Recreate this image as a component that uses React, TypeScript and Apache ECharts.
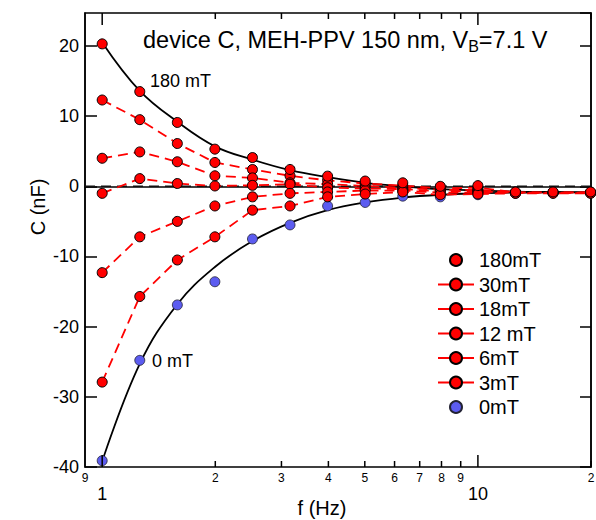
import React, { useEffect, useRef } from 'react';
import * as echarts from 'echarts';

const FONT = '"Liberation Sans", Arial, Helvetica, sans-serif';

// frequencies (Hz)
const freqs = [1, 1.259, 1.585, 1.995, 2.512, 3.162, 3.981, 5.012, 6.31, 7.943, 10, 12.59, 15.85, 19.95];

// capacitance (nF) per magnetic field
const c180 = [20.3, 13.5, 9.1, 5.3, 4.1, 2.4, 1.45, 0.75, 0.5, 0.0, 0.1, -0.8, -0.8, -0.8];
const c30 = [12.3, 9.5, 6.1, 3.4, 2.4, 1.5, 0.85, 0.4, 0.1, -0.3, -0.2, -0.85, -0.85, -0.85];
const c18 = [4.0, 4.9, 3.5, 1.5, 1.2, 0.5, 0.3, 0.05, -0.2, -0.5, -0.5, -0.9, -0.9, -0.9];
const c12 = [-1.0, 1.1, 0.4, 0.05, 0.14, 0.3, -0.2, -0.3, -0.4, -0.7, -0.7, -0.9, -0.9, -0.9];
const c6 = [-12.3, -7.2, -5.0, -2.8, -1.5, -1.0, -0.8, -0.6, -0.6, -0.9, -0.9, -0.95, -0.95, -0.95];
const c3 = [-27.9, -15.7, -10.5, -7.2, -3.4, -2.8, -1.5, -1.1, -0.8, -1.2, -1.1, -1.0, -1.0, -1.0];
const c0 = [-39.1, -24.8, -16.9, -13.6, -7.5, -5.5, -2.8, -2.3, -1.4, -1.5, -1.2, -1.0, -0.9, -0.9];

// fitted curves
const fit180 = [20.5, 13.6, 9.2, 5.7, 3.8, 2.3, 1.3, 0.5, 0.0, -0.4, -0.6, -0.75, -0.8, -0.85];
const fit0 = [-39.2, -25.3, -16.8, -11.5, -7.8, -5.2, -3.4, -2.3, -1.6, -1.2, -1.0, -0.9, -0.85, -0.85];

// axis ticks
const xTickValues = [1, 2, 3, 4, 5, 6, 7, 8, 9, 10, 20];
const xTickMajor = [1, 0, 0, 0, 0, 0, 0, 0, 0, 1, 0];
const xLabelValues = [0.9, 1, 2, 3, 4, 5, 6, 7, 8, 9, 10, 20];
const xLabelTexts = ['9', '1', '2', '3', '4', '5', '6', '7', '8', '9', '10', '2'];
const xLabelMajor = [0, 1, 0, 0, 0, 0, 0, 0, 0, 0, 1, 0];

const names = ['180mT', '30mT', '18mT', '12 mT', '6mT', '3mT', '0mT'];

const RED = '#ff0000';
const BLUE = '#5c5cf0';

function pairs(ys: number[]) {
  return freqs.map((f, i) => [f, ys[i]]);
}

export default function App() {
  const ref = useRef<HTMLDivElement>(null);
  useEffect(() => {
    if (!ref.current) return;
    const chart = echarts.init(ref.current, null, { renderer: 'svg' });
    const dashedRed = (name: string, ys: number[]) => ({
      name,
      type: 'line',
      data: pairs(ys),
      symbol: 'circle',
      symbolSize: 10,
      z: 4,
      lineStyle: { color: RED, width: 1.8, type: [10, 6] },
      itemStyle: { color: RED, borderColor: '#000', borderWidth: 1 },
    });
    const option: any = {
      animation: false,
      textStyle: { fontFamily: FONT },
      grid: { left: 85, right: 5, top: 13, bottom: 53, show: true, borderColor: '#000', borderWidth: 1.5 },
      xAxis: {
        type: 'log',
        logBase: 10,
        min: 0.9,
        max: 20,
        axisLine: { show: true, lineStyle: { color: '#000', width: 1.5 } },
        axisTick: { show: false },
        axisLabel: { show: false },
        splitLine: { show: false },
        minorTick: { show: false },
      },
      yAxis: [
        {
          type: 'value',
          min: -40,
          max: 24.7,
          interval: 10,
          axisLine: { show: true, lineStyle: { color: '#000', width: 1.5 } },
          axisTick: { show: true, inside: true, length: 12, lineStyle: { color: '#000', width: 1.5 } },
          axisLabel: { color: '#000', fontSize: 18, fontFamily: FONT, margin: 6, showMaxLabel: false },
          splitLine: { show: false },
        },
        {
          type: 'value',
          position: 'right',
          min: -40,
          max: 24.7,
          interval: 10,
          axisLine: { show: true, lineStyle: { color: '#000', width: 1.5 } },
          axisTick: { show: true, inside: true, length: 11, lineStyle: { color: '#000', width: 1.5 } },
          axisLabel: { show: false },
          splitLine: { show: false },
        },
      ],
      legend: {
        orient: 'vertical',
        left: 432,
        top: 245,
        itemWidth: 36,
        itemHeight: 15,
        itemGap: 4.5,
        textStyle: { fontSize: 20, color: '#000', fontFamily: FONT },
        lineStyle: { type: 'solid' },
        data: names,
      },
      series: [
        {
          type: 'line',
          data: [[0.9, 0], [20, 0]],
          symbol: 'none',
          z: 1,
          silent: true,
          lineStyle: { color: '#111', width: 1.6, type: [10, 6] },
        },
        {
          type: 'line',
          data: pairs(fit180),
          smooth: 0.4,
          symbol: 'none',
          z: 2,
          silent: true,
          lineStyle: { color: '#000', width: 1.8 },
        },
        {
          type: 'line',
          data: pairs(fit0),
          smooth: 0.4,
          symbol: 'none',
          z: 2,
          silent: true,
          lineStyle: { color: '#000', width: 1.8 },
        },
        {
          name: names[0],
          type: 'line',
          data: pairs(c180),
          symbol: 'circle',
          symbolSize: 10,
          z: 5,
          lineStyle: { opacity: 0 },
          itemStyle: { color: RED, borderColor: '#000', borderWidth: 1 },
        },
        dashedRed(names[1], c30),
        dashedRed(names[2], c18),
        dashedRed(names[3], c12),
        dashedRed(names[4], c6),
        dashedRed(names[5], c3),
        {
          name: names[6],
          type: 'line',
          data: pairs(c0),
          symbol: 'circle',
          symbolSize: 10,
          z: 3,
          lineStyle: { opacity: 0 },
          itemStyle: { color: BLUE, borderColor: '#223', borderWidth: 0.8 },
        },
        {
          type: 'custom',
          silent: true,
          clip: false,
          z: 6,
          data: xTickValues.map((v) => [v, 0]),
          encode: { x: 0, y: 1 },
          renderItem: (params: any, api: any) => {
            const major = xTickMajor[params.dataIndex];
            const p = api.coord([api.value(0), 0]);
            const cs = params.coordSys;
            const bottom = cs.y + cs.height;
            const top = cs.y;
            const len = major ? 12 : 6;
            return {
              type: 'group',
              children: [
                { type: 'line', shape: { x1: p[0], y1: bottom, x2: p[0], y2: bottom - len }, style: { stroke: '#000', lineWidth: 1.5 } },
                { type: 'line', shape: { x1: p[0], y1: top, x2: p[0], y2: top + len }, style: { stroke: '#000', lineWidth: 1.5 } },
              ],
            };
          },
        },
        {
          type: 'custom',
          silent: true,
          clip: false,
          z: 6,
          data: xLabelValues.map((v) => [v, 0]),
          encode: { x: 0, y: 1 },
          renderItem: (params: any, api: any) => {
            const i = params.dataIndex;
            const major = xLabelMajor[i];
            const p = api.coord([api.value(0), 0]);
            const bottom = params.coordSys.y + params.coordSys.height;
            return {
              type: 'text',
              x: p[0],
              y: bottom + (major ? 27 : 11),
              style: {
                text: xLabelTexts[i],
                fontSize: major ? 18 : 12,
                fontFamily: FONT,
                fill: '#000',
                align: 'center',
                verticalAlign: 'middle',
              },
            };
          },
        },
      ],
      graphic: [
        {
          type: 'text',
          left: 143,
          top: 26,
          style: {
            text: 'device C, MEH-PPV 150 nm, V{sub|B}=7.1 V',
            fontSize: 23.5,
            fontFamily: FONT,
            fill: '#000',
            lineHeight: 28,
            rich: {
              sub: { fontSize: 16, fontFamily: FONT, fill: '#000', padding: [12, 0, 0, 0], lineHeight: 16 },
            },
          },
        },
        {
          type: 'text',
          x: 150,
          y: 81,
          style: { text: '180 mT', fontSize: 18, fontFamily: FONT, fill: '#000', verticalAlign: 'middle' },
        },
        {
          type: 'text',
          x: 152,
          y: 361,
          style: { text: '0 mT', fontSize: 18, fontFamily: FONT, fill: '#000', verticalAlign: 'middle' },
        },
        {
          type: 'text',
          x: 38,
          y: 207,
          rotation: Math.PI / 2,
          style: { text: 'C (nF)', fontSize: 20, fontFamily: FONT, fill: '#000', align: 'center', verticalAlign: 'middle' },
        },
        {
          type: 'text',
          x: 322,
          y: 508,
          style: { text: 'f (Hz)', fontSize: 20, fontFamily: FONT, fill: '#000', align: 'center', verticalAlign: 'middle' },
        },
      ],
    };
    chart.setOption(option);
    return () => chart.dispose();
  }, []);
  return <div ref={ref} style={{ position: 'absolute', left: 0, top: 0, width: 596, height: 520 }} />;
}
